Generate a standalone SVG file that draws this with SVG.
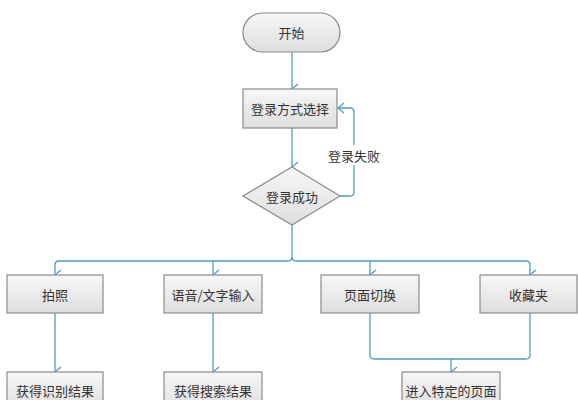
<svg xmlns="http://www.w3.org/2000/svg" width="578" height="400" viewBox="0 0 578 400">
<defs>
<linearGradient id="g" x1="0" y1="0" x2="0" y2="1">
<stop offset="0" stop-color="#f7f7f7"/>
<stop offset="1" stop-color="#dedede"/>
</linearGradient>
<marker id="arr" viewBox="0 0 12 10" refX="6" refY="9" markerWidth="12" markerHeight="10" markerUnits="userSpaceOnUse" orient="auto-start-reverse">
<path d="M1,3 L6,9 L11,3" fill="none" stroke="#4e9ec0" stroke-width="1.3"/>
</marker>
<marker id="arrL" viewBox="0 0 10 12" refX="1" refY="6" markerWidth="10" markerHeight="12" markerUnits="userSpaceOnUse" orient="0">
<path d="M7,1 L1,6 L7,11" fill="none" stroke="#4e9ec0" stroke-width="1.3"/>
</marker>
</defs>
<style>
.box{fill:url(#g);stroke:#8a8a8a;stroke-width:1.2}
.t{font-family:"Noto Sans CJK SC","Liberation Sans",sans-serif;font-size:13px;fill:#333;text-anchor:middle;dominant-baseline:central}
.c{fill:none;stroke:#4e9ec0;stroke-width:1.3}
</style>
<rect width="578" height="400" fill="#fff"/>
<g id="connectors">
<path class="c" d="M292,52 V89" marker-end="url(#arr)"/>
<path class="c" d="M292,128 V167" marker-end="url(#arr)"/>
<path class="c" d="M340,196 H350 Q354,196 354,192 V112 Q354,108 350,108 H338" marker-end="url(#arrL)"/>
<path class="c" d="M292,224 V257 Q292,261 288,261 H59 Q55,261 55,265 V275" marker-end="url(#arr)"/>
<path class="c" d="M292,257 Q292,261 296,261 H526 Q530,261 530,265 V275" marker-end="url(#arr)"/>
<path class="c" d="M213,261 V275" marker-end="url(#arr)"/>
<path class="c" d="M370,261 V275" marker-end="url(#arr)"/>
<path class="c" d="M55,313 V372" marker-end="url(#arr)"/>
<path class="c" d="M213,313 V372" marker-end="url(#arr)"/>
<path class="c" d="M370,313 V355 Q370,359 374,359 H451 V372" marker-end="url(#arr)"/>
<path class="c" d="M530,313 V355 Q530,359 526,359 H451"/>
</g>
<g id="start">
<rect class="box" x="243" y="13" width="97" height="39" rx="19.5"/>
<text class="t" x="291.5" y="32.5">开始</text>
</g>
<g id="login-method">
<rect class="box" x="243" y="89" width="94" height="39"/>
<text class="t" x="290" y="108.5">登录方式选择</text>
</g>
<g id="login-fail-label">
<rect x="326" y="145" width="56" height="20" fill="#fff"/>
<text class="t" x="354" y="155">登录失败</text>
</g>
<g id="login-success">
<polygon class="box" points="292,167 340,196 292,225 243,196"/>
<text class="t" x="292" y="196">登录成功</text>
</g>
<g id="photo">
<rect class="box" x="7" y="275" width="96" height="38"/>
<text class="t" x="55" y="294">拍照</text>
</g>
<g id="voice-text">
<rect class="box" x="164" y="275" width="98" height="38"/>
<text class="t" x="213" y="294">语音/文字输入</text>
</g>
<g id="page-switch">
<rect class="box" x="321" y="275" width="98" height="38"/>
<text class="t" x="370" y="294">页面切换</text>
</g>
<g id="favorites">
<rect class="box" x="480" y="275" width="97" height="38"/>
<text class="t" x="528.5" y="294">收藏夹</text>
</g>
<g id="recognition-result">
<rect class="box" x="7" y="372" width="96" height="38"/>
<text class="t" x="55" y="390">获得识别结果</text>
</g>
<g id="search-result">
<rect class="box" x="164" y="372" width="98" height="38"/>
<text class="t" x="213" y="390">获得搜索结果</text>
</g>
<g id="specific-page">
<rect class="box" x="402" y="372" width="98" height="38"/>
<text class="t" x="451" y="390">进入特定的页面</text>
</g>
</svg>
